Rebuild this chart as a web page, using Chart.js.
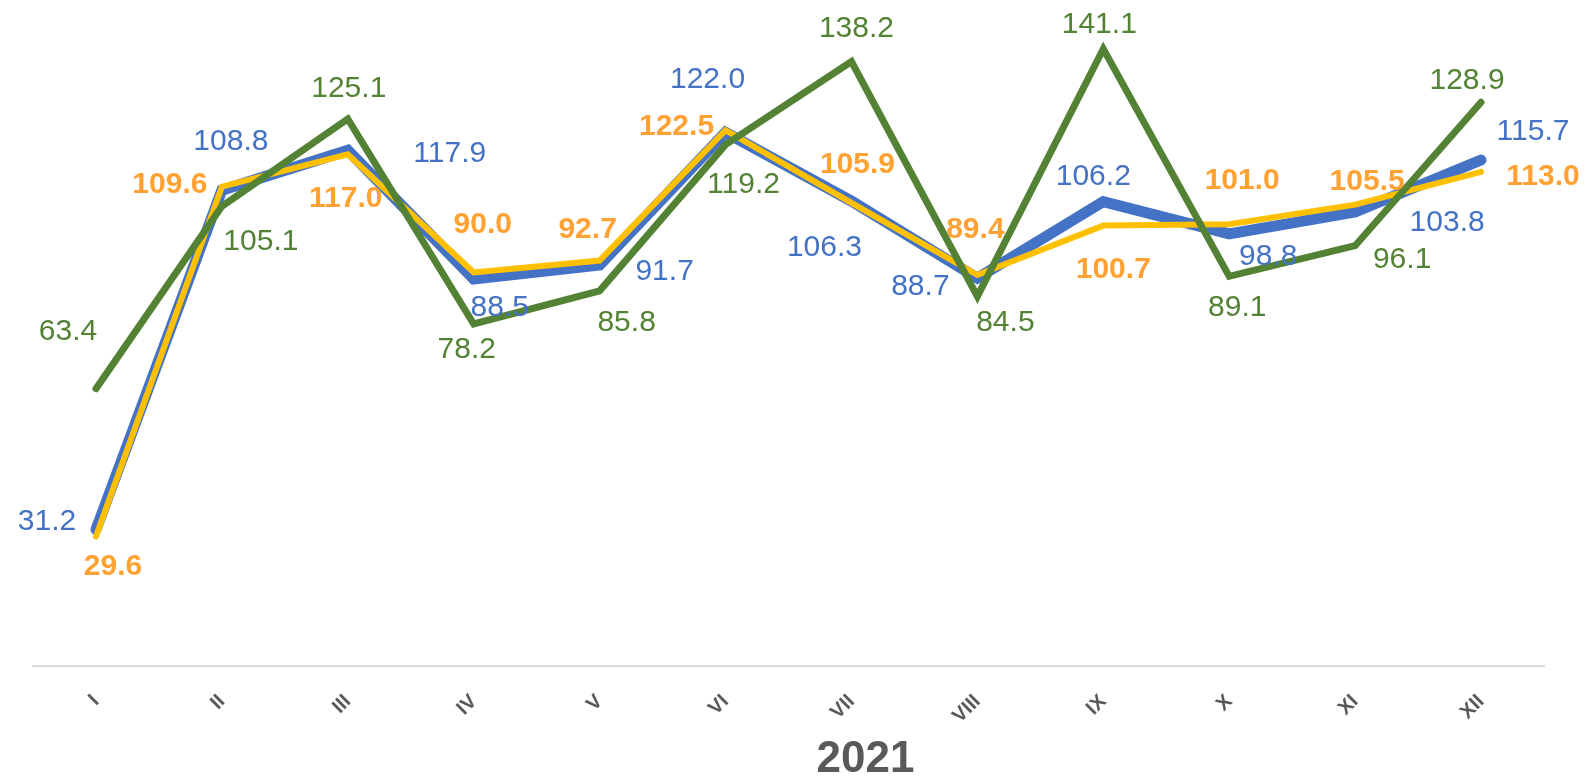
<!DOCTYPE html>
<html>
<head>
<meta charset="utf-8">
<script src="https://cdn.jsdelivr.net/npm/chart.js@4.4.1/dist/chart.umd.min.js"></script>
<style>
  html, body { margin: 0; padding: 0; background: #fff; }
  #wrap { width: 1588px; height: 776px; }
</style>
</head>
<body>
<div id="wrap"><canvas id="chart" width="1588" height="776"></canvas></div>
<script>
const months = ["I", "II", "III", "IV", "V", "VI", "VII", "VIII", "IX", "X", "XI", "XII"];
const blueValues = [31.2, 108.8, 117.9, 88.5, 91.7, 122.0, 106.3, 88.7, 106.2, 98.8, 103.8, 115.7];
const yellowValues = [29.6, 109.6, 117.0, 90.0, 92.7, 122.5, 105.9, 89.4, 100.7, 101.0, 105.5, 113.0];
const greenValues = [63.4, 105.1, 125.1, 78.2, 85.8, 119.2, 138.2, 84.5, 141.1, 89.1, 96.1, 128.9];
const axisTitle = "2021";

// label offsets from each point, in px
const blueOffsets = [[-49, -8], [9, -48], [102, 3], [26, 29], [65, 7], [-18, -53], [-27, 47], [-57, 9], [-10, -25], [39, 23], [92, 11], [52, -28]];
const yellowOffsets = [[17, 30], [-52, -2], [-2, 44], [9, -48], [-12, -31], [-49, -4], [6, -38], [-2, -45], [10, 44], [13, -44], [12, -23], [62, 5]];
const greenOffsets = [[-28, -57], [39, 35], [1, -30], [-7, 26], [27, 32], [18, 40], [5, -33], [28, 26], [-4, -24], [8, 31], [47, 14], [-14, -22]];

const FONT = "'Liberation Sans', Arial, sans-serif";

const pointLabels = {
  id: "pointLabels",
  afterDatasetsDraw(chart) {
    const ctx = chart.ctx;
    ctx.save();
    ctx.textAlign = "center";
    ctx.textBaseline = "middle";
    chart.data.datasets.forEach((ds, di) => {
      const meta = chart.getDatasetMeta(di);
      ctx.font = `${ds.labelWeight} 30px ${FONT}`;
      ctx.fillStyle = ds.labelColor;
      meta.data.forEach((pt, i) => {
        const off = ds.labelOffsets[i];
        ctx.fillText(ds.data[i].toFixed(1), pt.x + off[0], pt.y + off[1]);
      });
    });
    ctx.restore();
  },
  afterDraw(chart) {
    const ctx = chart.ctx;
    const area = chart.chartArea;
    ctx.save();
    ctx.font = `bold 44px ${FONT}`;
    ctx.fillStyle = "#595959";
    ctx.textAlign = "center";
    ctx.textBaseline = "alphabetic";
    ctx.fillText(axisTitle, (area.left + area.right) / 2 + 77, 772);
    ctx.restore();
  },
};

new Chart(document.getElementById("chart"), {
  type: "line",
  data: {
    labels: months,
    datasets: [
      {
        label: "blue",
        data: blueValues,
        borderColor: "#4472C4",
        borderWidth: 11,
        order: 3,
        labelColor: "#4472C4",
        labelWeight: "normal",
        labelOffsets: blueOffsets,
      },
      {
        label: "yellow",
        data: yellowValues,
        borderColor: "#FFC000",
        borderWidth: 6,
        order: 2,
        labelColor: "#FFA233",
        labelWeight: "bold",
        labelOffsets: yellowOffsets,
      },
      {
        label: "green",
        data: greenValues,
        borderColor: "#548235",
        borderWidth: 7,
        order: 1,
        labelColor: "#548235",
        labelWeight: "normal",
        labelOffsets: greenOffsets,
      },
    ],
  },
  options: {
    responsive: false,
    animation: false,
    layout: { padding: { left: 33, right: 44, top: 10, bottom: 0 } },
    elements: {
      point: { radius: 0, hoverRadius: 0 },
      line: { tension: 0, borderCapStyle: "round", borderJoinStyle: "miter", fill: false },
    },
    plugins: {
      legend: { display: false },
      tooltip: { enabled: false },
    },
    scales: {
      x: {
        offset: true,
        grid: { display: false, drawTicks: false },
        border: { display: true, color: "#D9D9D9", width: 2 },
        ticks: {
          color: "#595959",
          font: { family: FONT, size: 20, weight: "bold" },
          minRotation: 45,
          maxRotation: 45,
          autoSkip: false,
          padding: 24,
        },
        afterFit(scale) {
          scale.height = 110;
        },
      },
      y: {
        display: false,
        min: 0,
        max: 150,
      },
    },
  },
  plugins: [pointLabels],
});
</script>
</body>
</html>
